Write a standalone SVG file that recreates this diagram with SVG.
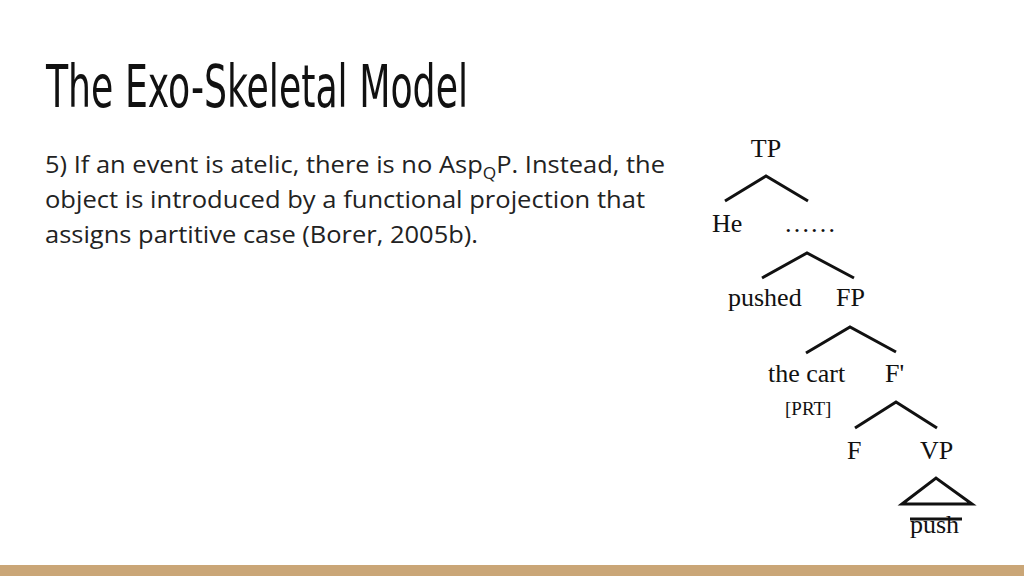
<svg xmlns="http://www.w3.org/2000/svg" width="1024" height="576" viewBox="0 0 1024 576">
<style>
.title{font-family:"Liberation Sans Narrow","DejaVu Sans Condensed","Liberation Sans",sans-serif;font-size:58px;fill:#111;}
.body{font-family:"Open Sans","Noto Sans",sans-serif;font-size:23.5px;fill:#222;}
.sub{font-size:16px;}
.tree{font-family:"Liberation Serif","Times New Roman",serif;font-size:26px;fill:#111;}
.small{font-size:19px;}
.edge{stroke:#111;stroke-width:3;fill:none;stroke-linejoin:miter;}
</style>
<rect width="1024" height="576" fill="#fff"/>
<rect x="0" y="565" width="1024" height="11" fill="#caa677"/>
<text class="title" x="46" y="107" textLength="422" lengthAdjust="spacingAndGlyphs">The Exo-Skeletal Model</text>
<g id="body-text">
<text class="body" x="45" y="173" textLength="620" lengthAdjust="spacingAndGlyphs">5) If an event is atelic, there is no Asp<tspan class="sub" dy="6">Q</tspan><tspan dy="-6">P. Instead, the</tspan></text>
<text class="body" x="45" y="208" textLength="600" lengthAdjust="spacingAndGlyphs">object is introduced by a functional projection that</text>
<text class="body" x="45" y="243" textLength="433" lengthAdjust="spacingAndGlyphs">assigns partitive case (Borer, 2005b).</text>
</g>
<g id="connectors">
<polyline class="edge" points="725,201 766,176 808,201"/>
<polyline class="edge" points="762,278 807,253 854,278"/>
<polyline class="edge" points="806,353 850,327 896,352"/>
<polyline class="edge" points="855,428 896,402 937,428"/>
<polygon class="edge" points="902,504 936,478 972,504"/>
<line class="edge" x1="910" y1="519" x2="962" y2="519" stroke-width="2"/>
</g>
<g id="node-TP"><text class="tree" x="766" y="157" text-anchor="middle">TP</text></g>
<g id="node-He"><text class="tree" x="712" y="232">He</text></g>
<g id="node-dots"><text class="tree" x="784" y="232">……</text></g>
<g id="node-pushed"><text class="tree" x="728" y="306">pushed</text></g>
<g id="node-FP"><text class="tree" x="836" y="306">FP</text></g>
<g id="node-thecart"><text class="tree" x="768" y="382">the cart</text><text class="tree small" x="785" y="415">[PRT]</text></g>
<g id="node-Fbar"><text class="tree" x="885" y="382">F'</text></g>
<g id="node-F"><text class="tree" x="847" y="459">F</text></g>
<g id="node-VP"><text class="tree" x="920" y="459">VP</text></g>
<g id="node-push"><text class="tree" x="910" y="533">push</text></g>
</svg>
